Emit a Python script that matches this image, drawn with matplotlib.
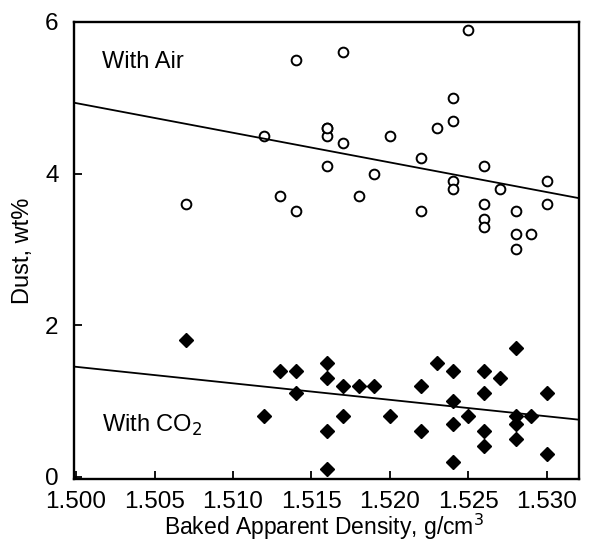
import matplotlib
import matplotlib.pyplot as plt
import numpy as np

matplotlib.use("Agg")

plt.rcParams["font.family"] = ["Liberation Sans", "DejaVu Sans"]

# Dust with air (open circles)
air_density = [
    1.507, 1.512, 1.513, 1.514, 1.514, 1.516, 1.516, 1.516, 1.516, 1.517,
    1.517, 1.518, 1.519, 1.520, 1.522, 1.522, 1.523, 1.524, 1.524, 1.524,
    1.524, 1.525, 1.526, 1.526, 1.526, 1.526, 1.527, 1.528, 1.528, 1.528,
    1.529, 1.530, 1.530,
]
air_dust = [
    3.6, 4.5, 3.7, 5.5, 3.5, 4.6, 4.5, 4.1, 4.6, 5.6,
    4.4, 3.7, 4.0, 4.5, 4.2, 3.5, 4.6, 5.0, 4.7, 3.9,
    3.8, 5.9, 4.1, 3.6, 3.4, 3.3, 3.8, 3.5, 3.2, 3.0,
    3.2, 3.9, 3.6,
]

# Dust with CO2 (filled diamonds)
co2_density = [
    1.507, 1.512, 1.513, 1.514, 1.514, 1.516, 1.516, 1.516, 1.516, 1.517,
    1.517, 1.518, 1.519, 1.520, 1.522, 1.522, 1.523, 1.524, 1.524, 1.524,
    1.524, 1.525, 1.526, 1.526, 1.526, 1.526, 1.527, 1.528, 1.528, 1.528,
    1.528, 1.529, 1.530, 1.530,
]
co2_dust = [
    1.8, 0.8, 1.4, 1.4, 1.1, 1.5, 1.3, 0.6, 0.1, 1.2,
    0.8, 1.2, 1.2, 0.8, 1.2, 0.6, 1.5, 1.4, 1.0, 0.7,
    0.2, 0.8, 1.4, 1.1, 0.6, 0.4, 1.3, 1.7, 0.8, 0.7,
    0.5, 0.8, 1.1, 0.3,
]

x_ticks = [1.500, 1.505, 1.510, 1.515, 1.520, 1.525, 1.530]
y_ticks = [0, 2, 4, 6]

fig = plt.figure(figsize=(5.89, 5.44), dpi=100)
ax = fig.add_axes([0.1256, 0.1195, 0.8574, 0.8401])

ax.plot(air_density, air_dust, "o", ms=7, mfc="white", mec="black", mew=1.4, ls="none")
ax.plot(co2_density, co2_dust, "D", ms=6.8, color="black", ls="none")

# least-squares trend lines across the full x range
xlim = (1.49987, 1.53204)
xs = np.array(xlim)
for dens, dust in [(air_density, air_dust), (co2_density, co2_dust)]:
    slope, icpt = np.polyfit(dens, dust, 1)
    ax.plot(xs, slope * xs + icpt, color="black", lw=1.3)

ax.text(0.055, 0.912, "With Air", transform=ax.transAxes, fontsize=17, va="center", ha="left")
ax.text(0.055, 0.118, "With CO$_2$", transform=ax.transAxes, fontsize=17, va="center", ha="left")

ax.set_xlim(*xlim)
ax.set_ylim(-0.03, 6.0)
ax.set_xticks(x_ticks)
ax.set_xticklabels([f"{t:.3f}" for t in x_ticks])
ax.set_yticks(y_ticks)
ax.tick_params(direction="in", length=6, width=1.3, labelsize=17.5)
ax.tick_params(axis="y", pad=11)
ax.tick_params(axis="x", pad=9)
for s in ax.spines.values():
    s.set_linewidth(1.7)

ax.set_xlabel("Baked Apparent Density, g/cm$^3$", fontsize=16.5)
ax.xaxis.set_label_coords(0.495, -0.072)
ax.set_ylabel("Dust, wt%", fontsize=17)
ax.yaxis.set_label_coords(-0.08, 0.5)

fig.savefig("out.png", dpi=100)
